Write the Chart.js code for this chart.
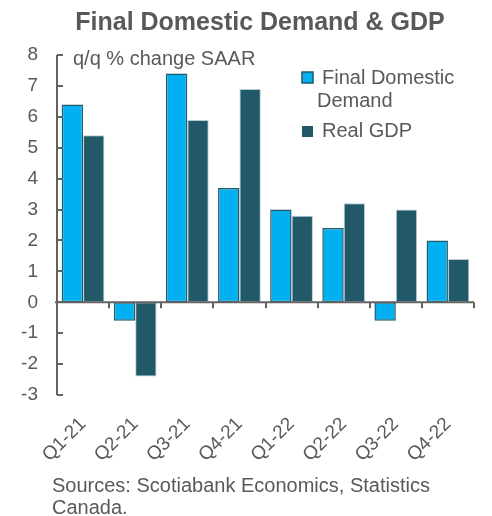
<!DOCTYPE html>
<html>
<head>
<meta charset="utf-8">
<script src="https://cdn.jsdelivr.net/npm/chart.js@4"></script>
<style>
  html, body { margin: 0; padding: 0; background: #fff; }
  #wrap { position: relative; width: 492px; height: 516px; }
</style>
</head>
<body>
<div id="wrap"><canvas id="chart" width="492" height="516"></canvas></div>
<script>
const categories = ['Q1-21', 'Q2-21', 'Q3-21', 'Q4-21', 'Q1-22', 'Q2-22', 'Q3-22', 'Q4-22'];
const finalDomesticDemand = [6.4, -0.6, 7.4, 3.7, 3.0, 2.4, -0.6, 2.0];
const realGDP = [5.4, -2.4, 5.9, 6.9, 2.8, 3.2, 3.0, 1.4];
const yMin = -3, yMax = 8;

const titleText = 'Final Domestic Demand & GDP';
const unitText = 'q/q % change SAAR';
const sourceLines = ['Sources: Scotiabank Economics, Statistics', 'Canada.'];

const grey = '#595959';
const font = "'Liberation Sans', Arial, sans-serif";

// axes, ticks, legend and notes drawn by hand
const decor = {
  id: 'decor',
  afterDatasetsDraw(chart) {
    const ctx = chart.ctx;
    const x = chart.scales.x, y = chart.scales.y;
    const zero = y.getPixelForValue(0);
    ctx.save();
    ctx.strokeStyle = '#636363';
    ctx.lineWidth = 2;
    // y axis
    ctx.beginPath();
    ctx.moveTo(x.left, y.top);
    ctx.lineTo(x.left, y.bottom);
    ctx.stroke();
    for (let v = yMin; v <= yMax; v++) {
      const py = Math.round(y.getPixelForValue(v));
      ctx.beginPath();
      ctx.moveTo(x.left, py);
      ctx.lineTo(x.left + 6, py);
      ctx.stroke();
    }
    // zero line with category ticks
    ctx.beginPath();
    ctx.moveTo(x.left - 2, zero);
    ctx.lineTo(x.right, zero);
    ctx.stroke();
    const w = (x.right - x.left) / categories.length;
    for (let i = 1; i <= categories.length; i++) {
      const px = Math.round(x.left + i * w);
      ctx.beginPath();
      ctx.moveTo(px, zero);
      ctx.lineTo(px, zero + 6);
      ctx.stroke();
    }

    ctx.fillStyle = grey;
    ctx.textBaseline = 'alphabetic';
    // title
    ctx.font = 'bold 25px ' + font;
    ctx.textAlign = 'center';
    ctx.fillText(titleText, 260, 30);
    // unit
    ctx.textAlign = 'left';
    ctx.font = '20px ' + font;
    ctx.fillText(unitText, 73, 65);
    // legend
    const ds = chart.data.datasets;
    ctx.fillStyle = ds[0].backgroundColor;
    ctx.strokeStyle = ds[0].borderColor;
    ctx.lineWidth = 1.5;
    ctx.fillRect(302, 72, 11, 11);
    ctx.strokeRect(302, 72, 11, 11);
    ctx.fillStyle = ds[1].backgroundColor;
    ctx.fillRect(302, 126, 11, 11);
    ctx.fillStyle = grey;
    ctx.fillText('Final Domestic', 322, 84);
    ctx.fillText('Demand', 317, 107);
    ctx.fillText(ds[1].label, 322, 137);
    // sources
    ctx.fillText(sourceLines[0], 52, 492);
    ctx.fillText(sourceLines[1], 52, 514);
    ctx.restore();
  }
};

new Chart(document.getElementById('chart'), {
  type: 'bar',
  data: {
    labels: categories,
    datasets: [
      {
        label: 'Final Domestic Demand',
        data: finalDomesticDemand,
        backgroundColor: '#00B0F0',
        borderColor: '#215968',
        borderWidth: 1.5,
        borderSkipped: false
      },
      {
        label: 'Real GDP',
        data: realGDP,
        backgroundColor: '#215968',
        borderColor: '#b9cdd3',
        borderWidth: 1,
        borderSkipped: false
      }
    ]
  },
  options: {
    responsive: false,
    animation: false,
    layout: { padding: { left: 0, right: 18, top: 55, bottom: 0 } },
    plugins: {
      legend: { display: false },
      title: { display: false },
      tooltip: { enabled: false }
    },
    datasets: {
      bar: { categoryPercentage: 0.82, barPercentage: 1.0 }
    },
    scales: {
      x: {
        grid: { display: false, drawTicks: false },
        border: { display: false },
        ticks: {
          color: grey,
          font: { family: font, size: 19 },
          minRotation: 45,
          maxRotation: 45,
          padding: 18
        },
        afterFit(s) { s.height = 516 - 395; }
      },
      y: {
        min: yMin,
        max: yMax,
        grid: { display: false, drawTicks: false },
        border: { display: false },
        ticks: {
          stepSize: 1,
          color: grey,
          font: { family: font, size: 19 },
          padding: 19
        },
        afterFit(s) { s.width = 57; }
      }
    }
  },
  plugins: [decor]
});
</script>
</body>
</html>
